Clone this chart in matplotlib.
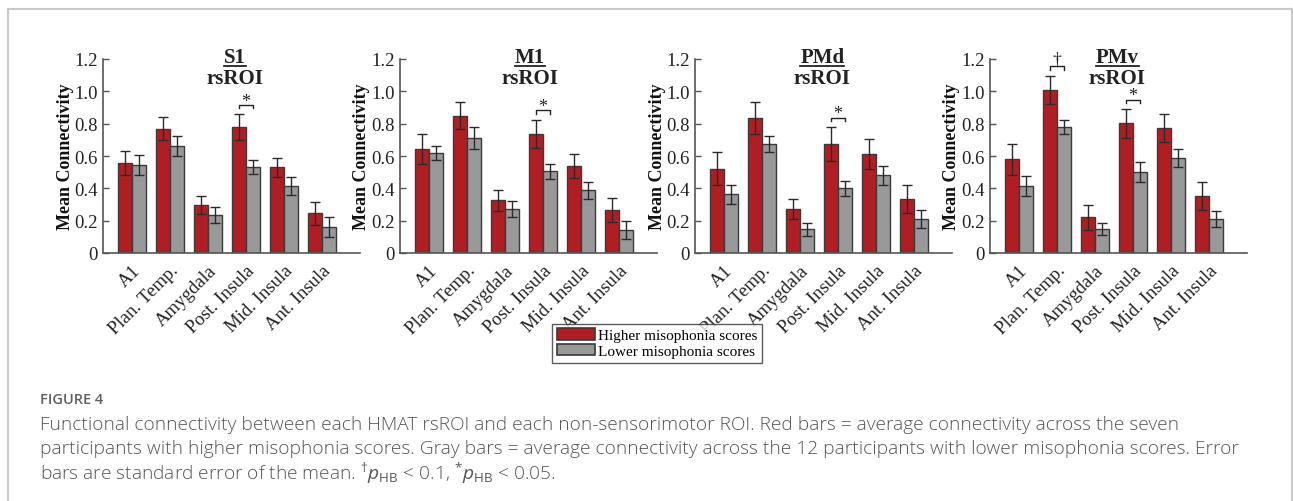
import numpy as np
import matplotlib
matplotlib.use('Agg')
import matplotlib.pyplot as plt
from matplotlib.lines import Line2D
from matplotlib.patches import Patch

plt.rcParams['font.family'] = ['Liberation Serif', 'DejaVu Serif']
plt.rcParams['mathtext.fontset'] = 'custom'
plt.rcParams['mathtext.rm'] = 'Open Sans'
plt.rcParams['mathtext.it'] = 'Open Sans:italic'

# data
rois = ['A1', 'Plan. Temp.', 'Amygdala', 'Post. Insula', 'Mid. Insula', 'Ant. Insula']
panels = ['S1', 'M1', 'PMd', 'PMv']

high_mean = {
    'S1':  [0.555, 0.770, 0.297, 0.777, 0.530, 0.245],
    'M1':  [0.643, 0.849, 0.326, 0.736, 0.538, 0.268],
    'PMd': [0.522, 0.833, 0.274, 0.674, 0.610, 0.336],
    'PMv': [0.579, 1.010, 0.220, 0.802, 0.771, 0.351],
}
high_se = {
    'S1':  [0.075, 0.072, 0.058, 0.080, 0.060, 0.070],
    'M1':  [0.093, 0.082, 0.066, 0.089, 0.077, 0.074],
    'PMd': [0.100, 0.099, 0.062, 0.105, 0.093, 0.087],
    'PMv': [0.097, 0.087, 0.079, 0.089, 0.087, 0.088],
}
low_mean = {
    'S1':  [0.545, 0.664, 0.235, 0.532, 0.414, 0.161],
    'M1':  [0.619, 0.713, 0.274, 0.505, 0.388, 0.144],
    'PMd': [0.363, 0.676, 0.148, 0.400, 0.480, 0.210],
    'PMv': [0.412, 0.781, 0.148, 0.503, 0.586, 0.210],
}
low_se = {
    'S1':  [0.060, 0.062, 0.047, 0.045, 0.058, 0.060],
    'M1':  [0.045, 0.068, 0.050, 0.045, 0.053, 0.056],
    'PMd': [0.057, 0.050, 0.040, 0.047, 0.060, 0.054],
    'PMv': [0.062, 0.044, 0.038, 0.062, 0.055, 0.050],
}
# (panel, roi index, marker)
significance = [('S1', 3, '*'), ('M1', 3, '*'), ('PMd', 3, '*'),
                ('PMv', 1, '†'), ('PMv', 3, '*')]

RED = '#b01e24'
GRAY = '#999999'
EDGE = '#3a3a3a'

W, H = 1293, 502
fig = plt.figure(figsize=(W / 100, H / 100), dpi=100)

# outer frame of the figure box
for xs, ys in [([8, 8], [0, 492]), ([8, 1292], [492, 492]), ([1292, 1292], [492, 0])]:
    fig.add_artist(Line2D(np.array(xs) / W, np.array(ys) / H, color='#c9c9c9', lw=1.5))

ax_left = [103, 400, 695, 990]
title_x = [0.515, 0.505, 0.495, 0.495]
x = np.arange(1, len(rois) + 1)
bw = 0.37

axes = []
for i, p in enumerate(panels):
    ax = fig.add_axes([ax_left[i] / W, (H - 254) / H, 257 / W, 194 / H])
    axes.append(ax)
    ax.bar(x - bw / 2, high_mean[p], bw, color=RED, edgecolor=EDGE, lw=1.0, zorder=2)
    ax.bar(x + bw / 2, low_mean[p], bw, color=GRAY, edgecolor=EDGE, lw=1.0, zorder=2)
    ax.errorbar(x - bw / 2, high_mean[p], yerr=high_se[p], fmt='none', ecolor='#2a2a2a',
                elinewidth=1.0, capsize=3.5, capthick=1.0, zorder=3)
    ax.errorbar(x + bw / 2, low_mean[p], yerr=low_se[p], fmt='none', ecolor='#2a2a2a',
                elinewidth=1.0, capsize=3.5, capthick=1.0, zorder=3)
    ax.set_xlim(0.24, 7.0)
    ax.set_ylim(0, 1.2)
    ax.set_yticks([0, 0.2, 0.4, 0.6, 0.8, 1.0, 1.2])
    ax.set_yticklabels(['0', '0.2', '0.4', '0.6', '0.8', '1.0', '1.2'])
    ax.set_xticks(x)
    ax.set_xticklabels(rois, rotation=45, ha='right', rotation_mode='anchor')
    ax.tick_params(axis='x', length=0, pad=6, labelsize=13.5, labelcolor='#222222')
    ax.tick_params(axis='y', direction='in', length=4, width=1, labelsize=13.5,
                   color='#555555', pad=4, labelcolor='#222222')
    for s in ['top', 'right']:
        ax.spines[s].set_visible(False)
    for s in ['left', 'bottom']:
        ax.spines[s].set_color('#555555')
        ax.spines[s].set_linewidth(1.2)
    ax.set_ylabel('Mean Connectivity', fontsize=13, fontweight='bold', color='#111111')
    ax.yaxis.set_label_coords(-38 / 257, 0.5)
    ax.yaxis.label.set_va('center')
    ax.text(title_x[i], 1.01, p, transform=ax.transAxes, ha='center', va='center',
            fontsize=15, fontweight='bold', color='#222222')
    ax.text(title_x[i], 0.9, 'rsROI', transform=ax.transAxes, ha='center', va='center',
            fontsize=15, fontweight='bold', color='#222222')

mark_offset = {'*': 0.025, '†': 0.045}
for p, k, m in significance:
    ax = axes[panels.index(p)]
    yb = max(high_mean[p][k] + high_se[p][k], low_mean[p][k] + low_se[p][k]) + 0.057
    x0, x1 = x[k] - bw / 2, x[k] + bw / 2
    ax.plot([x0, x0, x1, x1], [yb - 0.02, yb, yb, yb - 0.02], color='#222222', lw=1.0,
            clip_on=False, zorder=4)
    ax.text((x0 + x1) / 2, yb + mark_offset[m], m, ha='center', va='center', fontsize=13,
            color='#222222', clip_on=False)

# underline the rsROI names
fig.canvas.draw()
r = fig.canvas.get_renderer()
for i, ax in enumerate(axes):
    t = ax.texts[0]
    bb = t.get_window_extent(r)
    yl = bb.y0 + 1
    fig.add_artist(Line2D([bb.x0 / W, bb.x1 / W], [yl / H, yl / H], color='#222222', lw=1.3))

handles = [Patch(facecolor=RED, edgecolor=EDGE, lw=1.2, label='Higher misophonia scores'),
           Patch(facecolor=GRAY, edgecolor=EDGE, lw=1.2, label='Lower misophonia scores')]
leg = fig.legend(handles=handles, loc='center', bbox_to_anchor=(657 / W, (H - 344) / H),
                 fontsize=11, frameon=True, fancybox=False, edgecolor='#333333',
                 handlelength=2.5, handleheight=0.8, handletextpad=0.2,
                 labelspacing=0.1, borderpad=0.3, borderaxespad=0)
leg.get_frame().set_linewidth(1.0)

cap_font = ['Open Sans', 'DejaVu Sans']
fig.text(40 / W, (H - 400) / H, 'FIGURE 4', family=cap_font, fontsize=10.5, fontweight='semibold',
         color='#606060', ha='left', va='center')
cap_lines = [
    'Functional connectivity between each HMAT rsROI and each non-sensorimotor ROI. Red bars = average connectivity across the seven',
    'participants with higher misophonia scores. Gray bars = average connectivity across the 12 participants with lower misophonia scores. Error',
    'bars are standard error of the mean. $^{†}' + r'\mathit{p}_{\mathrm{HB}}$ < 0.1, $^{*}\mathit{p}_{\mathrm{HB}}$ < 0.05.',
]
for j, line in enumerate(cap_lines):
    fig.text(40 / W, (H - 425 - 24 * j) / H, line, family=cap_font, fontsize=13.8,
             fontweight='light', color='#555555', ha='left', va='center')

fig.savefig('out.png', dpi=100)
